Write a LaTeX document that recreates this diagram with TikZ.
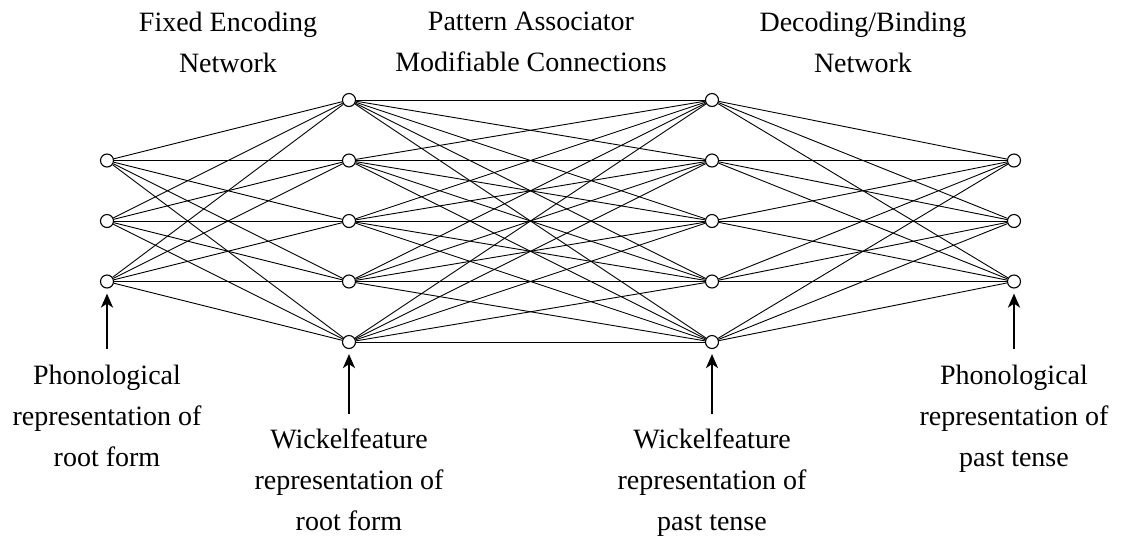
\documentclass[tikz,border=0pt]{standalone}
\usepackage{fontspec}
\setmainfont{Liberation Serif}
\usepackage{tikz}
\usetikzlibrary{arrows.meta}

\tikzset{
  unit/.style={circle, draw, fill=white, line width=0.55pt, inner sep=0pt, minimum size=6.5pt},
  link/.style={line width=0.45pt},
  feed/.style={-{Stealth[length=7pt, width=6pt, inset=2pt]}, line width=1.4pt, shorten >=2.5pt},
  caption/.style={align=center, inner sep=0pt, font=\fontsize{14}{20.5}\selectfont}
}

\begin{document}
\begin{tikzpicture}[x=0.5pt, y=-0.5pt]
        \useasboundingbox (0,0) rectangle (1121,543);

        % Units
        \foreach \i/\y in {1/160.5, 2/221, 3/281.5} {
          \node[unit] (in\i) at (107,\y) {};
          \node[unit] (out\i) at (1014,\y) {};
        }
        \foreach \i/\y in {1/100, 2/160.5, 3/221, 4/281.5, 5/342} {
          \node[unit] (wa\i) at (349,\y) {};
          \node[unit] (wb\i) at (712,\y) {};
        }

        % Connections
        \foreach \j in {1,...,5} {
          \foreach \i in {1,...,3} {
            \draw[link] (in\i) -- (wa\j);
            \draw[link] (wb\j) -- (out\i);
          }
          \foreach \k in {1,...,5}
            \draw[link] (wa\j) -- (wb\k);
        }

        % Headings
        \node[caption, anchor=north] (enc) at (228,12) {Fixed Encoding\\Network};
        \node[caption, anchor=north] (assoc) at (531,12) {Pattern Associator\\Modifiable Connections};
        \node[caption, anchor=north] (dec) at (863,12) {Decoding/Binding\\Network};

        % Representations
        \node[caption, anchor=north] (phroot) at (107,365) {Phonological\\representation of\\root form};
        \node[caption, anchor=north] (wfroot) at (349,428) {Wickelfeature\\representation of\\root form};
        \node[caption, anchor=north] (wfpast) at (712,428) {Wickelfeature\\representation of\\past tense};
        \node[caption, anchor=north] (phpast) at (1014,365) {Phonological\\representation of\\past tense};

        \draw[feed, shorten <=8pt] (phroot) -- (in3);
        \draw[feed, shorten <=7pt] (wfroot) -- (wa5);
        \draw[feed, shorten <=7pt] (wfpast) -- (wb5);
        \draw[feed, shorten <=8pt] (phpast) -- (out3);

\end{tikzpicture}
\end{document}
